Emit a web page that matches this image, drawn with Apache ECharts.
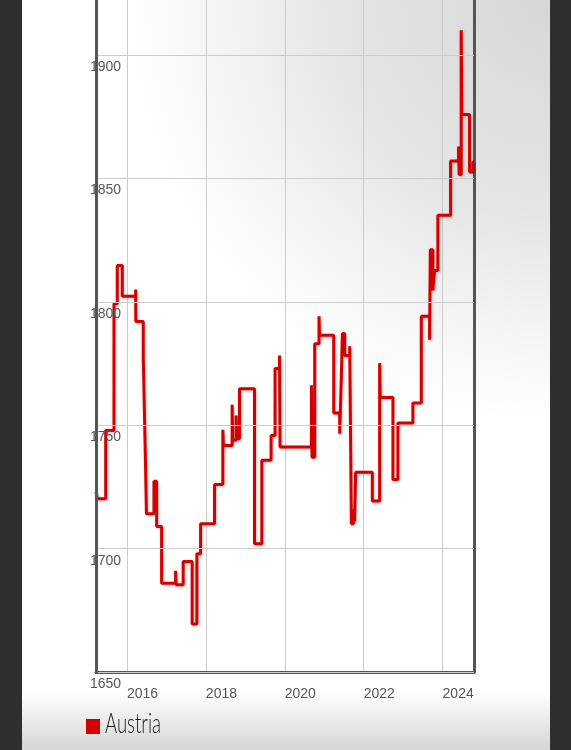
<!DOCTYPE html>
<html>
<head>
<meta charset="utf-8">
<script src="https://cdn.jsdelivr.net/npm/echarts@6/dist/echarts.min.js"></script>
<style>
html,body{margin:0;padding:0;background:#2f2f2f;}
#chart{width:571px;height:750px;}
</style>
</head>
<body>
<div id="chart"></div>
<script>
// Decimal-year timestamps and values of the step series
const dates = [
  2015.215, 2015.248, 2015.461, 2015.671, 2015.754, 2015.881, 2016.220, 2016.224,
  2016.413, 2016.456, 2016.473, 2016.494, 2016.684, 2016.752, 2016.878, 2017.233,
  2017.245, 2017.425, 2017.653, 2017.772, 2017.866, 2018.220, 2018.430, 2018.445,
  2018.666, 2018.680, 2018.767, 2018.780, 2018.853, 2019.233, 2019.418, 2019.653,
  2019.754, 2019.866, 2019.880, 2020.676, 2020.690, 2020.759, 2020.868, 2020.882,
  2021.241, 2021.392, 2021.435, 2021.461, 2021.519, 2021.646, 2021.689, 2021.740,
  2021.770, 2021.797, 2022.220, 2022.405, 2022.420, 2022.742, 2022.868, 2023.248,
  2023.461, 2023.671, 2023.690, 2023.754, 2023.797, 2023.881, 2024.203, 2024.405,
  2024.420, 2024.473, 2024.487, 2024.684, 2024.767, 2024.797
];
const values = [
  1722.9, 1720.2, 1747.9, 1799.3, 1814.8, 1802.3, 1805.0, 1792.1,
  1777.7, 1745.0, 1731.7, 1714.1, 1727.3, 1709.0, 1686.0, 1691.0,
  1685.4, 1694.8, 1669.5, 1697.9, 1710.1, 1726.0, 1748.2, 1741.8,
  1758.3, 1743.9, 1754.0, 1744.6, 1764.8, 1702.0, 1735.8, 1745.9,
  1773.0, 1778.3, 1741.2, 1766.2, 1737.1, 1783.1, 1794.2, 1786.5,
  1755.0, 1746.6, 1770.0, 1787.2, 1778.3, 1782.0, 1710.1, 1716.0,
  1711.0, 1731.0, 1719.3, 1775.2, 1761.3, 1728.0, 1750.9, 1759.0,
  1794.2, 1784.7, 1821.2, 1804.7, 1812.8, 1835.1, 1857.1, 1863.0,
  1851.7, 1910.1, 1876.0, 1852.7, 1856.7, 1856.7
];
const yearTicks = [2016, 2018, 2020, 2022, 2024];
const valueTicks = [1650, 1700, 1750, 1800, 1850, 1900];
const seriesName = 'Austria';
const xMin = 2015.215, xMax = 2024.797;
const yMin = 1650, yMax = 1922.4;

const data = dates.map((d, i) => [d, values[i]]);

// legend label drawn in a condensed look: measure and squeeze horizontally
const legendFont = "300 28px Lato, 'Open Sans', sans-serif";
const legendTargetWidth = 56;
const mctx = document.createElement('canvas').getContext('2d');
mctx.font = legendFont;
const legendScaleX = legendTargetWidth / mctx.measureText(seriesName).width;

const axisLineStyle = {color: '#555', width: 3};
const labelFont = "'Liberation Sans', Arial, sans-serif";

const chart = echarts.init(document.getElementById('chart'), null, {renderer: 'canvas'});
chart.setOption({
  animation: false,
  backgroundColor: '#2f2f2f',
  graphic: {
    elements: [
      {
        type: 'rect', z: -21, silent: true,
        shape: {x: 22, y: 0, width: 528, height: 750},
        style: {fill: '#ffffff'}
      },
      {
        type: 'rect', z: -20, silent: true,
        shape: {x: 22, y: 0, width: 528, height: 750},
        style: {
          fill: new echarts.graphic.RadialGradient(1.0, 0.0, 0.8, [
            {offset: 0, color: '#d7d7d7'},
            {offset: 0.5, color: '#e5e5e5'},
            {offset: 0.8, color: '#f5f5f5'},
            {offset: 1, color: '#ffffff'}
          ])
        }
      },
      {
        type: 'rect', z: -19, silent: true,
        shape: {x: 22, y: 692, width: 528, height: 58},
        style: {
          fill: new echarts.graphic.LinearGradient(0, 0, 0, 1, [
            {offset: 0, color: 'rgba(214,214,214,0)'},
            {offset: 1, color: 'rgba(214,214,214,1)'}
          ])
        }
      },
      {
        type: 'text', z: 10, silent: true,
        x: 105, y: 724, scaleX: legendScaleX,
        style: {
          text: seriesName, font: legendFont, fill: '#1a1a1a',
          align: 'left', verticalAlign: 'middle'
        }
      }
    ]
  },
  grid: {
    left: 96, right: 97, top: 0, bottom: 78,
    show: false, containLabel: false
  },
  legend: {
    data: [seriesName],
    left: 81, top: 714,
    icon: 'rect', itemWidth: 14, itemHeight: 15, itemGap: 5,
    formatter: () => '',
    textStyle: {fontSize: 1}
  },
  xAxis: {
    type: 'value', min: xMin, max: xMax,
    axisLine: {show: true, onZero: false, lineStyle: axisLineStyle},
    axisTick: {show: false, customValues: yearTicks},
    splitLine: {show: true, lineStyle: {color: '#cccccc', width: 1}},
    axisLabel: {
      customValues: yearTicks,
      formatter: v => String(Math.round(v)),
      align: 'left', margin: 15,
      color: '#555', fontSize: 14, fontFamily: labelFont
    }
  },
  yAxis: [{
    type: 'value', min: yMin, max: yMax,
    axisLine: {show: true, onZero: false, lineStyle: axisLineStyle},
    axisTick: {show: false, customValues: valueTicks},
    splitLine: {show: true, lineStyle: {color: '#cccccc', width: 1}},
    axisLabel: {
      customValues: valueTicks,
      inside: true, margin: -6, align: 'left', verticalAlign: 'top',
      padding: [5, 0, 0, 0],
      formatter: v => String(v),
      color: '#555', fontSize: 14, fontFamily: labelFont
    },
    z: 4
  }, {
    type: 'value', position: 'right', min: yMin, max: yMax,
    axisLine: {show: true, onZero: false, lineStyle: axisLineStyle},
    axisTick: {show: false},
    axisLabel: {show: false},
    splitLine: {show: false}
  }],
  series: [{
    name: seriesName,
    type: 'line',
    step: 'end',
    data: data,
    showSymbol: false,
    symbol: 'none',
    color: '#d40000',
    lineStyle: {
      color: '#d40000', width: 3,
      shadowColor: 'rgba(0,0,0,0.25)', shadowBlur: 3, shadowOffsetX: 1, shadowOffsetY: 1
    },
    z: 3
  }]
});
</script>
</body>
</html>
